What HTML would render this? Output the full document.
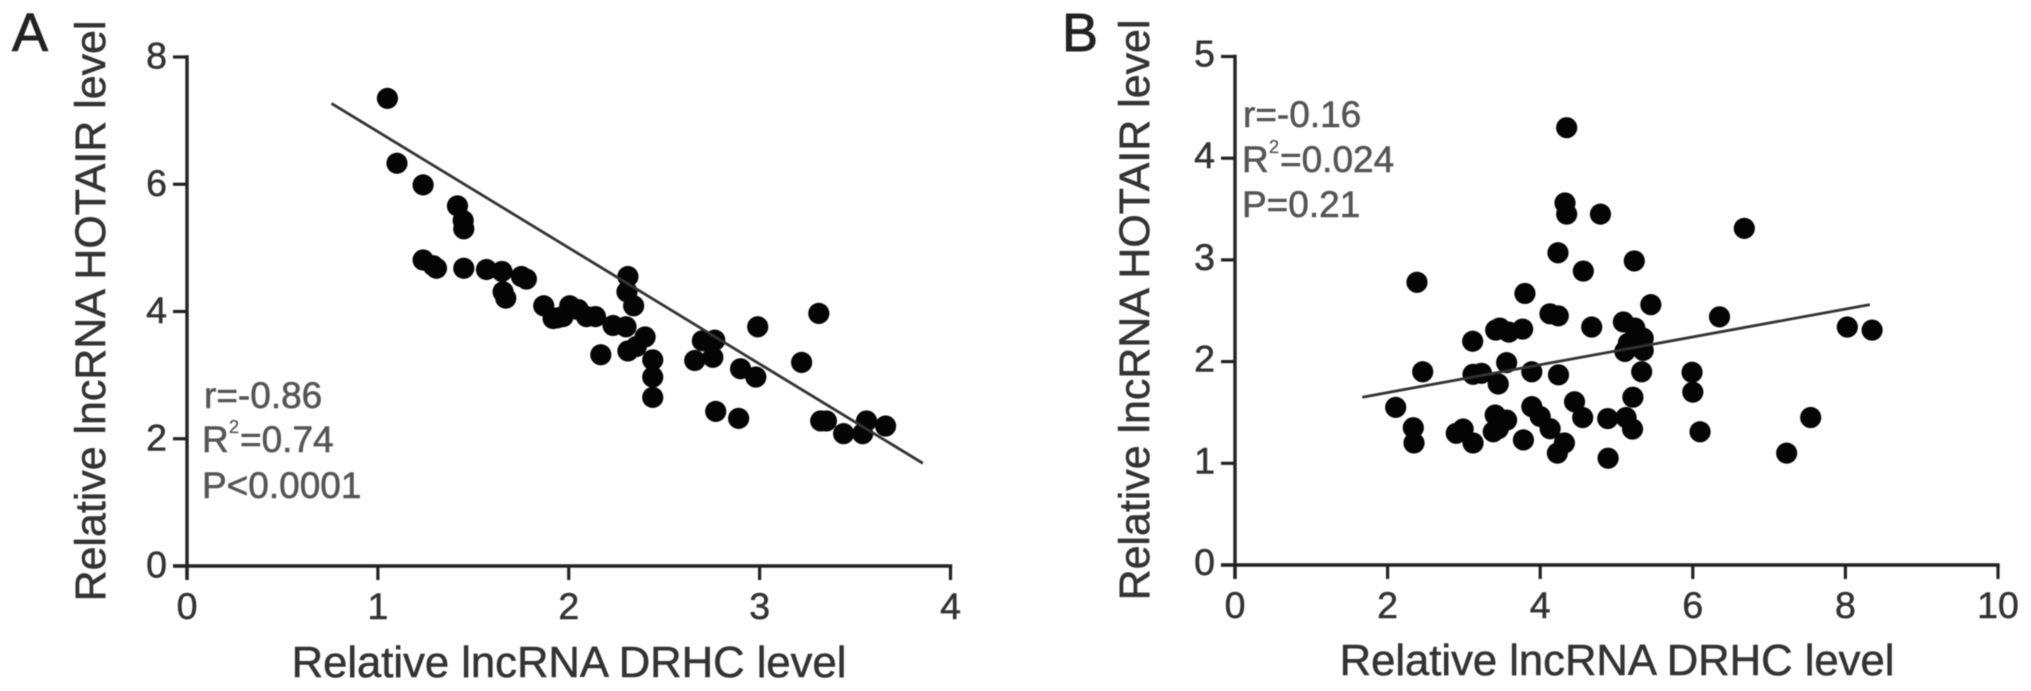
<!DOCTYPE html>
<html lang="en">
<head>
<meta charset="utf-8">
<title>lncRNA DRHC vs HOTAIR scatter plots</title>
<style>
html,body{margin:0;padding:0;background:#fff;width:2031px;height:691px;overflow:hidden}
svg{display:block;filter:blur(0.6px)}
text{font-family:"Liberation Sans",Arial,sans-serif;fill:#333;stroke:#333;stroke-width:0.55px}
.tick{font-size:37.5px}
.title{font-size:43.6px}
.ytitle{font-size:42.9px}
.note{font-size:37px;fill:#555;stroke:#555;stroke-width:0.6px}
.sup{font-size:18px;fill:#555;stroke:#555;stroke-width:0.3px}
.letter{font-size:54px;fill:#222;stroke:#222;stroke-width:0.9px}
</style>
</head>
<body>
<svg id="figure" xmlns="http://www.w3.org/2000/svg" width="2031" height="691" viewBox="0 0 2031 691">
  <rect width="2031" height="691" fill="#fff"/>
  <text class="letter" x="12" y="51">A</text>
  <text class="letter" x="1062" y="51">B</text>

  <g id="panel-a"></g>
  <g id="panel-b"></g>

  <text class="title" x="569" y="677" text-anchor="middle">Relative lncRNA DRHC level</text>
  <text class="ytitle" transform="translate(105,311) rotate(-90)" text-anchor="middle">Relative lncRNA HOTAIR level</text>
  <text class="title" x="1617" y="675" text-anchor="middle">Relative lncRNA DRHC level</text>
  <text class="ytitle" transform="translate(1149,310) rotate(-90)" text-anchor="middle">Relative lncRNA HOTAIR level</text>

  <g>
    <text class="note" x="204" y="408">r=-0.86</text>
    <text class="note" x="202" y="452">R</text>
    <text class="sup" x="229" y="433">2</text>
    <text class="note" x="240" y="452">=0.74</text>
    <text class="note" x="202" y="498">P&lt;0.0001</text>
  </g>
  <g>
    <text class="note" x="1243" y="127">r=-0.16</text>
    <text class="note" x="1242" y="172">R</text>
    <text class="sup" x="1269" y="153">2</text>
    <text class="note" x="1280" y="172">=0.024</text>
    <text class="note" x="1242" y="217">P=0.21</text>
  </g>
</svg>
<script>
// Panel A data
const aX = [1.05,1.10,1.237,1.237,1.307,1.29,1.417,1.447,1.45,1.45,1.569,1.65,1.656,1.67,1.752,1.778,1.869,1.918,1.94,1.97,2.005,2.05,2.093,2.14,2.168,2.232,2.30,2.31,2.305,2.34,2.31,2.354,2.40,2.44,2.44,2.44,2.66,2.70,2.765,2.755,2.77,2.89,2.90,2.98,2.99,3.22,3.31,3.32,3.35,3.44,3.54,3.56,3.66];
const aY = [7.35,6.33,5.99,4.81,4.68,4.72,5.66,5.43,5.30,4.68,4.66,4.63,4.31,4.21,4.55,4.51,4.09,3.89,3.90,3.92,4.09,4.03,3.92,3.92,3.32,3.78,3.76,4.55,4.31,4.09,3.38,3.45,3.60,3.24,2.97,2.65,3.23,3.54,3.55,3.28,2.43,2.32,3.10,2.97,3.76,3.20,3.97,2.28,2.28,2.08,2.08,2.28,2.20];
const aFitX = [0.757,3.855];
const aFitY = [7.27,1.615];
const aXTicks = [0,1,2,3,4];
const aYTicks = [0,2,4,6,8];

// Panel B data
const bX = [4.347,4.325,4.347,4.79,4.233,4.565,5.233,2.385,3.80,5.45,4.128,4.237,4.675,5.09,5.24,5.35,5.155,5.25,5.11,5.35,3.417,3.47,3.59,3.77,3.115,2.46,3.12,3.23,3.56,3.89,3.45,4.24,5.33,2.106,2.337,2.346,2.90,2.99,3.12,3.41,3.56,3.47,3.385,3.45,3.78,3.89,4.00,4.13,4.317,4.225,4.45,4.557,4.885,5.125,5.21,5.215,4.89,6.675,6.35,8.025,8.35,5.99,6.00,6.095,7.545,7.23];
const bY = [4.30,3.56,3.45,3.45,3.07,2.89,2.99,2.78,2.67,2.56,2.47,2.45,2.34,2.39,2.33,2.23,2.18,2.22,2.10,2.11,2.31,2.33,2.29,2.32,2.20,1.90,1.875,1.885,1.99,1.90,1.78,1.87,1.90,1.55,1.35,1.20,1.295,1.337,1.20,1.475,1.425,1.41,1.31,1.34,1.23,1.557,1.46,1.34,1.20,1.10,1.605,1.45,1.44,1.45,1.337,1.65,1.05,3.31,2.44,2.34,2.31,1.895,1.70,1.31,1.45,1.10];
const bFitX = [1.668,8.32];
const bFitY = [1.65,2.56];
const bXTicks = [0,2,4,6,8,10];
const bYTicks = [0,1,2,3,4,5];

const NS = 'http://www.w3.org/2000/svg';
const AXIS_COLOR = '#222';
const TICK_LEN = 14;

// Axis functions
const scaleAX = v => 187 + (v / 4) * 763.5;
const scaleAY = v => 566 - (v / 8) * 509;
const scaleBX = v => 1235 + (v / 10) * 763;
const scaleBY = v => 565 - (v / 5) * 508.5;

function makeLine(parent, x1, y1, x2, y2, color, width) {
  const el = document.createElementNS(NS, 'line');
  el.setAttribute('x1', x1);
  el.setAttribute('y1', y1);
  el.setAttribute('x2', x2);
  el.setAttribute('y2', y2);
  el.setAttribute('stroke', color);
  el.setAttribute('stroke-width', width);
  parent.appendChild(el);
  return el;
}

function makeLabel(parent, x, y, anchor, label) {
  const el = document.createElementNS(NS, 'text');
  el.setAttribute('class', 'tick');
  el.setAttribute('x', x);
  el.setAttribute('y', y);
  el.setAttribute('text-anchor', anchor);
  el.textContent = label;
  parent.appendChild(el);
  return el;
}

function drawPanel(group, sx, sy, xTicks, yTicks, xs, ys, fitX, fitY, opts) {
  const xMin = xTicks[0], xMax = xTicks[xTicks.length - 1];
  const yMin = yTicks[0], yMax = yTicks[yTicks.length - 1];

  const xAxis = makeLine(group, sx(xMin) - TICK_LEN, sy(yMin), sx(xMax) + 1.7, sy(yMin), AXIS_COLOR, 3.4);
  
  

  const yAxis = makeLine(group, sx(xMin), sy(yMin) + TICK_LEN, sx(xMin), sy(yMax) - 1.7, AXIS_COLOR, 3.4);
  
  

  xTicks.forEach(function (t) {
    const mark = makeLine(group, sx(t), sy(yMin), sx(t), sy(yMin) + TICK_LEN, AXIS_COLOR, 3.2);
    
    
    const label = makeLabel(group, sx(t), opts.xLabelY, 'middle', String(t));
    
    
  });

  yTicks.forEach(function (t) {
    const mark = makeLine(group, sx(xMin) - TICK_LEN, sy(t), sx(xMin), sy(t), AXIS_COLOR, 3.2);
    
    
    const label = makeLabel(group, opts.yLabelX, sy(t) + opts.yLabelDy, 'end', String(t));
    
    
  });

  xs.forEach(function (v, i) {
    const dot = document.createElementNS(NS, 'circle');
    dot.setAttribute('cx', sx(v));
    dot.setAttribute('cy', sy(ys[i]));
    dot.setAttribute('r', 10.6);
    dot.setAttribute('fill', '#050505');
    
    
    group.appendChild(dot);
  });

  const fit = makeLine(group, sx(fitX[0]), sy(fitY[0]), sx(fitX[1]), sy(fitY[1]), '#333', 2.8);
  
  
}

drawPanel(document.getElementById('panel-a'), scaleAX, scaleAY, aXTicks, aYTicks, aX, aY, aFitX, aFitY,
  { xLabelY: 619, yLabelX: 167, yLabelDy: 11.5 });
drawPanel(document.getElementById('panel-b'), scaleBX, scaleBY, bXTicks, bYTicks, bX, bY, bFitX, bFitY,
  { xLabelY: 618, yLabelX: 1215, yLabelDy: 10 });
</script>
</body>
</html>
